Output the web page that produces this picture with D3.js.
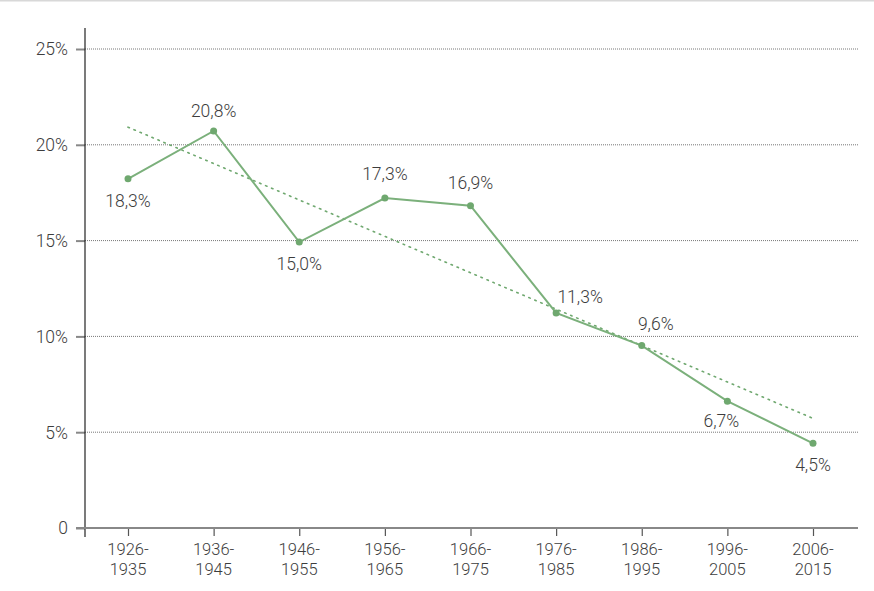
<!DOCTYPE html>
<html><head><meta charset="utf-8">
<script src="https://cdn.jsdelivr.net/npm/d3@7"></script>
<style>
body{margin:0;background:#fff;}
svg{display:block;}
text{font-family:Roboto, "Liberation Sans", sans-serif;font-weight:300;fill:#3d3d3d;}
</style></head>
<body>
<script>
const periods = ["1926-1935","1936-1945","1946-1955","1956-1965","1966-1975","1976-1985","1986-1995","1996-2005","2006-2015"];
const values = [18.3, 20.8, 15.0, 17.3, 16.9, 11.3, 9.6, 6.7, 4.5];
const labels = ["18,3%","20,8%","15,0%","17,3%","16,9%","11,3%","9,6%","6,7%","4,5%"];
const trend = [21.0, 5.8];
const yTicks = [0, 5, 10, 15, 20, 25];
const yTickLabels = ["0","5%","10%","15%","20%","25%"];
// label placement (offsets in px relative to point)
const labelDx = [0, 0, 0, 0, 0, 24, 14, -6, 0];
const labelDy = [28, -14, 28, -18, -17, -10, -16, 26, 28];

const W = 874, H = 591;
const FS = "17.5px";
const svg = d3.select("body").append("svg").attr("width", W).attr("height", H);

svg.append("rect").attr("x",0).attr("y",0).attr("width",W).attr("height",1.5).attr("fill","#d8d8d8");

const x = d3.scalePoint().domain(periods).range([128, 813]);
const y = d3.scaleLinear().domain([0, 25]).range([528, 49]);

// gridlines
svg.append("g").selectAll("line").data(yTicks.filter(d=>d>0)).join("line")
  .attr("x1", 85).attr("x2", 859)
  .attr("y1", d=>y(d)).attr("y2", d=>y(d))
  .attr("stroke", "#777").attr("stroke-width", 1).attr("stroke-dasharray","1,1");

// y axis
const yAxis = d3.axisLeft(y).tickValues(yTicks).tickSize(9).tickPadding(8)
  .tickFormat((d,i)=>yTickLabels[i]);
const gy = svg.append("g").attr("transform","translate(85,0)").call(yAxis);
gy.select(".domain").remove();
gy.selectAll(".tick line").attr("stroke","#888").attr("stroke-width",2);
gy.selectAll(".tick text").style("font-size",FS).attr("dy","0.34em").style("fill","#3d3d3d")
  .style("font-family","Roboto, sans-serif").style("font-weight","300");
svg.append("line").attr("x1",85).attr("x2",85).attr("y1",28).attr("y2",537)
  .attr("stroke","#222").attr("stroke-width",1.2);

// x axis
const xAxis = d3.axisBottom(x).tickSize(8).tickFormat("");
const gx = svg.append("g").attr("transform","translate(0,528)").call(xAxis);
gx.select(".domain").remove();
gx.selectAll(".tick line").attr("stroke","#555").attr("stroke-width",1.2);
svg.append("line").attr("x1",76).attr("x2",858).attr("y1",528).attr("y2",528)
  .attr("stroke","#888").attr("stroke-width",2);

// x labels two lines
const xl = svg.append("g").selectAll("text").data(periods).join("text")
  .attr("x", d=>x(d)).attr("text-anchor","middle").style("font-size","16.5px");
xl.append("tspan").attr("x", d=>x(d)).attr("y", 555).text(d=>d.split("-")[0]+"-");
xl.append("tspan").attr("x", d=>x(d)).attr("y", 575).text(d=>d.split("-")[1]);

const data = svg.append("g").attr("transform","translate(0,1.5)");
// trend line
data.append("line")
  .attr("x1", x(periods[0])).attr("y1", y(trend[0]))
  .attr("x2", x(periods[periods.length-1])).attr("y2", y(trend[1]))
  .attr("stroke","#6fa86f").attr("stroke-width",1.6).attr("stroke-dasharray","1.5,5")
  .attr("stroke-linecap","round");

// data line
const pts = periods.map((p,i)=>({p, v:values[i], l:labels[i], i}));
data.append("path").datum(pts)
  .attr("d", d3.line().x(d=>x(d.p)).y(d=>y(d.v)))
  .attr("fill","none").attr("stroke","#7bb07b").attr("stroke-width",2);
data.append("g").selectAll("circle").data(pts).join("circle")
  .attr("cx", d=>x(d.p)).attr("cy", d=>y(d.v)).attr("r", 3.5).attr("fill","#6fa86f");

data.append("g").selectAll("text").data(pts).join("text")
  .attr("x", d=>x(d.p)+labelDx[d.i]).attr("y", d=>y(d.v)+labelDy[d.i])
  .attr("text-anchor","middle").style("font-size",FS).text(d=>d.l);
</script>
</body></html>
